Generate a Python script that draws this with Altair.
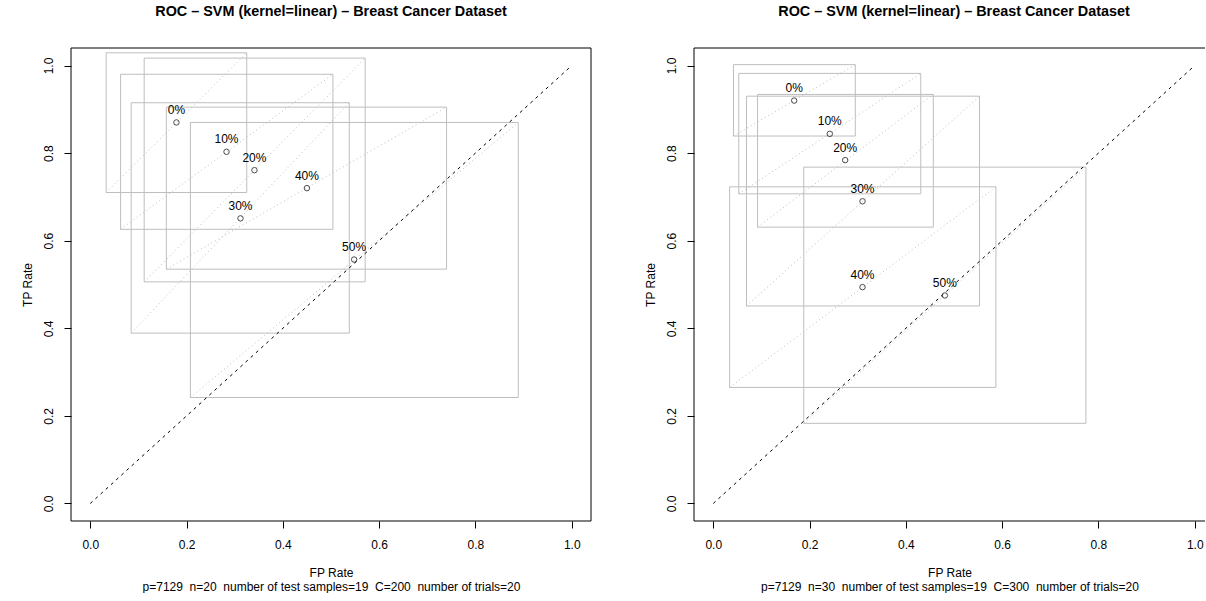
import altair as alt
import pandas as pd

# ---------------- data ----------------
labels = ["0%", "10%", "20%", "30%", "40%", "50%"]

# left panel (n=20, C=200)
left_fp = [0.179, 0.283, 0.341, 0.312, 0.450, 0.548]
left_tp = [0.870, 0.803, 0.761, 0.651, 0.720, 0.557]
left_fp_lo = [0.033, 0.063, 0.112, 0.085, 0.158, 0.208]
left_fp_hi = [0.325, 0.504, 0.571, 0.538, 0.740, 0.889]
left_tp_lo = [0.710, 0.626, 0.506, 0.389, 0.535, 0.242]
left_tp_hi = [1.029, 0.980, 1.017, 0.915, 0.905, 0.870]

# right panel (n=30, C=300)
right_fp = [0.168, 0.242, 0.274, 0.310, 0.310, 0.481]
right_tp = [0.920, 0.844, 0.784, 0.690, 0.494, 0.475]
right_fp_lo = [0.042, 0.053, 0.092, 0.069, 0.034, 0.188]
right_fp_hi = [0.295, 0.431, 0.457, 0.553, 0.587, 0.774]
right_tp_lo = [0.839, 0.707, 0.631, 0.451, 0.265, 0.183]
right_tp_hi = [1.002, 0.982, 0.934, 0.930, 0.723, 0.768]

tick_values = [0.0, 0.2, 0.4, 0.6, 0.8, 1.0]
diag_start = [0.0]
diag_end = [1.0]

title_text = "ROC \u2013 SVM (kernel=linear) \u2013 Breast Cancer Dataset"
sub_left = "p=7129\u00a0 n=20\u00a0 number of test samples=19\u00a0 C=200\u00a0 number of trials=20"
sub_right = "p=7129\u00a0 n=30\u00a0 number of test samples=19\u00a0 C=300\u00a0 number of trials=20"

# ---------------- styling ----------------
FONT = "Liberation Sans"
H = 473
W_LEFT = 520
W_RIGHT = 511
Y_DOMAIN = [-0.04, 1.04]
X_DOMAIN_LEFT = [-0.04, 1.04]
X_DOMAIN_RIGHT = [-0.04, 1.0213]
BOX_COLOR = "#bebebe"


def panel(fp, tp, fp_lo, fp_hi, tp_lo, tp_hi, sub, width, xdom, dx, anchor_rule):
    df = pd.DataFrame({
        "label": labels, "fp": fp, "tp": tp,
        "x1": fp_lo, "x2": fp_hi, "y1": tp_lo, "y2": tp_hi,
    })
    diag = pd.DataFrame({"a": diag_start, "b": diag_end})
    one = pd.DataFrame({"z": [0]})

    xs = alt.Scale(domain=xdom, nice=False, zero=False)
    ys = alt.Scale(domain=Y_DOMAIN, nice=False, zero=False)
    xaxis = alt.Axis(
        values=tick_values, format=".1f", grid=False, domain=False,
        tickSize=7, tickColor="black", tickWidth=1,
        labelColor="black", labelFont=FONT, labelFontSize=12,
        labelPadding=11, labelFlush=False, labelOverlap=False,
        title=["FP Rate", sub], titleFont=FONT, titleFontSize=12,
        titleFontWeight="normal", titleColor="black",
        titlePadding=17, titleLineHeight=14.4,
    )
    yaxis = alt.Axis(
        values=tick_values, format=".1f", grid=False, domain=False,
        tickSize=7, tickColor="black", tickWidth=1,
        labelColor="black", labelFont=FONT, labelFontSize=12,
        labelAngle=-90, labelAlign="center", labelBaseline="bottom",
        labelPadding=8.5, labelFlush=False, labelOverlap=False,
        title="TP Rate", titleFont=FONT, titleFontSize=12,
        titleFontWeight="normal", titleColor="black", titlePadding=8,
    )

    def X(f):
        return alt.X(f, type="quantitative", scale=xs, axis=xaxis)

    def Y(f):
        return alt.Y(f, type="quantitative", scale=ys, axis=yaxis)

    base = alt.Chart(df)
    boxes = base.mark_rect(fillOpacity=0, stroke=BOX_COLOR, strokeWidth=1).encode(
        x=X("x1"), x2="x2", y=Y("y1"), y2="y2"
    )
    box_diag = base.mark_rule(color=BOX_COLOR, strokeDash=[1, 3], strokeWidth=1).encode(
        x=X("x1"), x2="x2", y=Y("y1"), y2="y2"
    )
    main_diag = alt.Chart(diag).mark_rule(color="black", strokeDash=[3, 4], strokeWidth=1).encode(
        x=X("a"), x2="b", y=Y("a"), y2="b"
    )
    pts = base.mark_point(shape="circle", filled=False, color="black", size=30, strokeWidth=1).encode(
        x=X("fp"), y=Y("tp")
    )
    txt = base.mark_text(font=FONT, fontSize=12, color="black", dy=-8.5,
                         baseline="alphabetic", align="center").encode(
        x=X("fp"), y=Y("tp"), text="label:N"
    )

    frame = alt.Chart(one)
    top = frame.mark_rule(color="black", strokeWidth=1).encode(
        x=alt.value(0), x2=alt.value(width), y=alt.value(0))
    bottom = frame.mark_rule(color="black", strokeWidth=1).encode(
        x=alt.value(0), x2=alt.value(width), y=alt.value(H))
    leftside = frame.mark_rule(color="black", strokeWidth=1).encode(
        x=alt.value(0), y=alt.value(0), y2=alt.value(H))
    layers = [boxes, box_diag, main_diag, pts, txt, top, bottom, leftside]
    if anchor_rule:
        rightside = frame.mark_rule(color="black", strokeWidth=1).encode(
            x=alt.value(width), y=alt.value(0), y2=alt.value(H))
        ghost = frame.mark_rule(opacity=0, strokeWidth=1).encode(
            x=alt.value(-70.5), y=alt.value(0), y2=alt.value(H))
        layers += [rightside, ghost]

    return alt.layer(*layers).properties(
        width=width, height=H,
        title=alt.TitleParams(
            text=title_text, font=FONT, fontSize=14.4, fontWeight="bold",
            color="black", anchor="middle", frame="group", offset=17,
            baseline="alphabetic", dx=dx,
        ),
    )


left = panel(left_fp, left_tp, left_fp_lo, left_fp_hi, left_tp_lo, left_tp_hi,
             sub_left, W_LEFT, X_DOMAIN_LEFT, 0, True)
right = panel(right_fp, right_tp, right_fp_lo, right_fp_hi, right_tp_lo, right_tp_hi,
              sub_right, W_RIGHT, X_DOMAIN_RIGHT, 4.5, False)

chart = alt.hconcat(left, right, spacing=103, bounds="flush").properties(
    padding={"left": 0, "top": 4, "right": 0, "bottom": 0},
    background="white",
).configure_view(strokeOpacity=0)

chart.save("out.html", embed_options={"renderer": "svg", "actions": False})
